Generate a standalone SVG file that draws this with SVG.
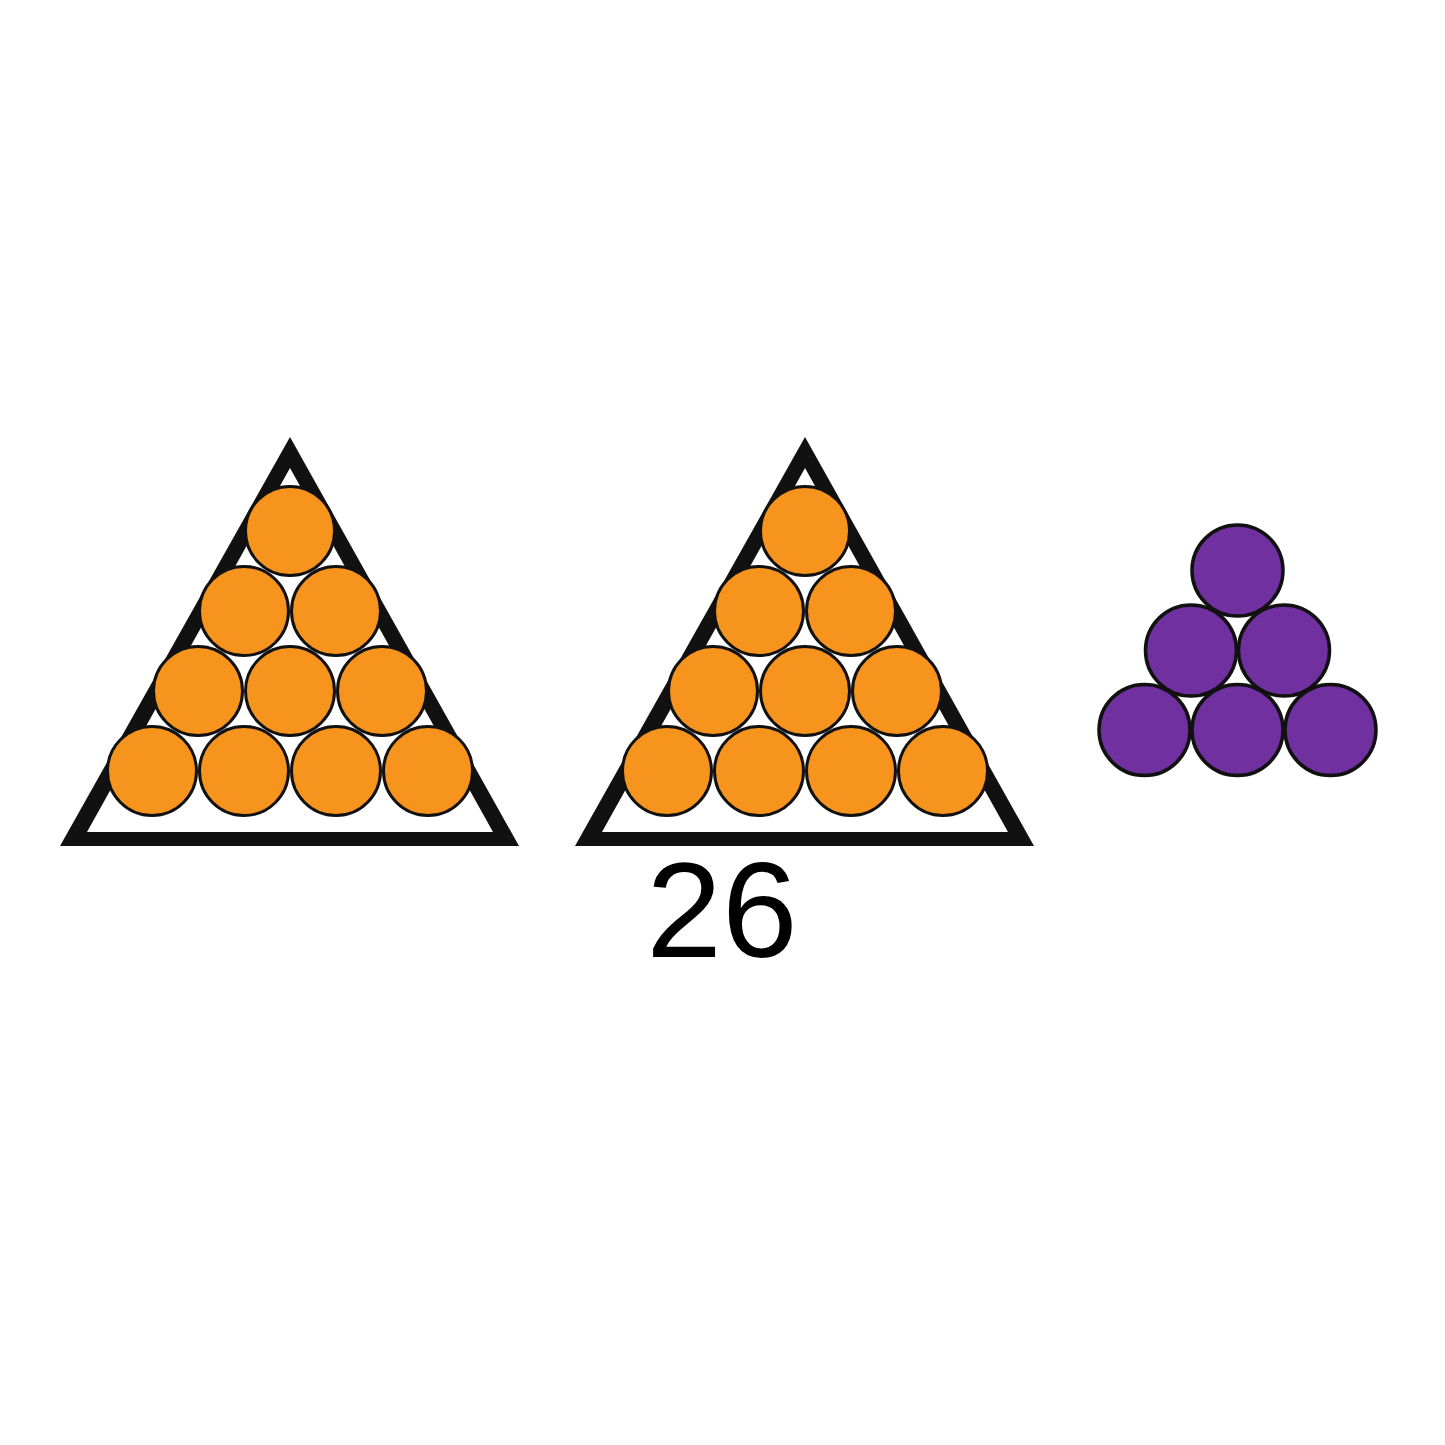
<svg xmlns="http://www.w3.org/2000/svg" width="1445" height="1445" viewBox="0 0 1445 1445">
<style>
.frame{fill:#111111;fill-rule:evenodd}
.o{fill:#F7941E;stroke:#111111;stroke-width:3}
.p{fill:#7030A0;stroke:#111111;stroke-width:3.5}
.lbl{font-family:"Liberation Sans",Arial,sans-serif;font-size:136px;fill:#000000}
</style>
<rect width="1445" height="1445" fill="#ffffff"/>
<defs>
<g id="rack">
<path class="frame" d="M290,437 L60,846 L519,846 Z M290,468 L493,832 L87,832 Z"/>
<circle class="o" cx="290" cy="531" r="44.5"/>
<circle class="o" cx="244" cy="611" r="44.5"/>
<circle class="o" cx="336" cy="611" r="44.5"/>
<circle class="o" cx="198" cy="691" r="44.5"/>
<circle class="o" cx="290" cy="691" r="44.5"/>
<circle class="o" cx="382" cy="691" r="44.5"/>
<circle class="o" cx="152" cy="771" r="44.5"/>
<circle class="o" cx="244" cy="771" r="44.5"/>
<circle class="o" cx="336" cy="771" r="44.5"/>
<circle class="o" cx="428" cy="771" r="44.5"/>
</g>
</defs>
<g id="rack1"><use href="#rack"/></g>
<g id="rack2"><use href="#rack" transform="translate(515,0)"/></g>
<g id="purple">
<circle class="p" cx="1237.5" cy="570.5" r="45.5"/>
<circle class="p" cx="1191" cy="650.5" r="45.5"/>
<circle class="p" cx="1284" cy="650.5" r="45.5"/>
<circle class="p" cx="1144.5" cy="730" r="45.5"/>
<circle class="p" cx="1237.5" cy="730" r="45.5"/>
<circle class="p" cx="1330.5" cy="730" r="45.5"/>
</g>
<g id="label"><text class="lbl" x="722" y="957" text-anchor="middle">26</text></g>
<g id="connectors"/>
</svg>
